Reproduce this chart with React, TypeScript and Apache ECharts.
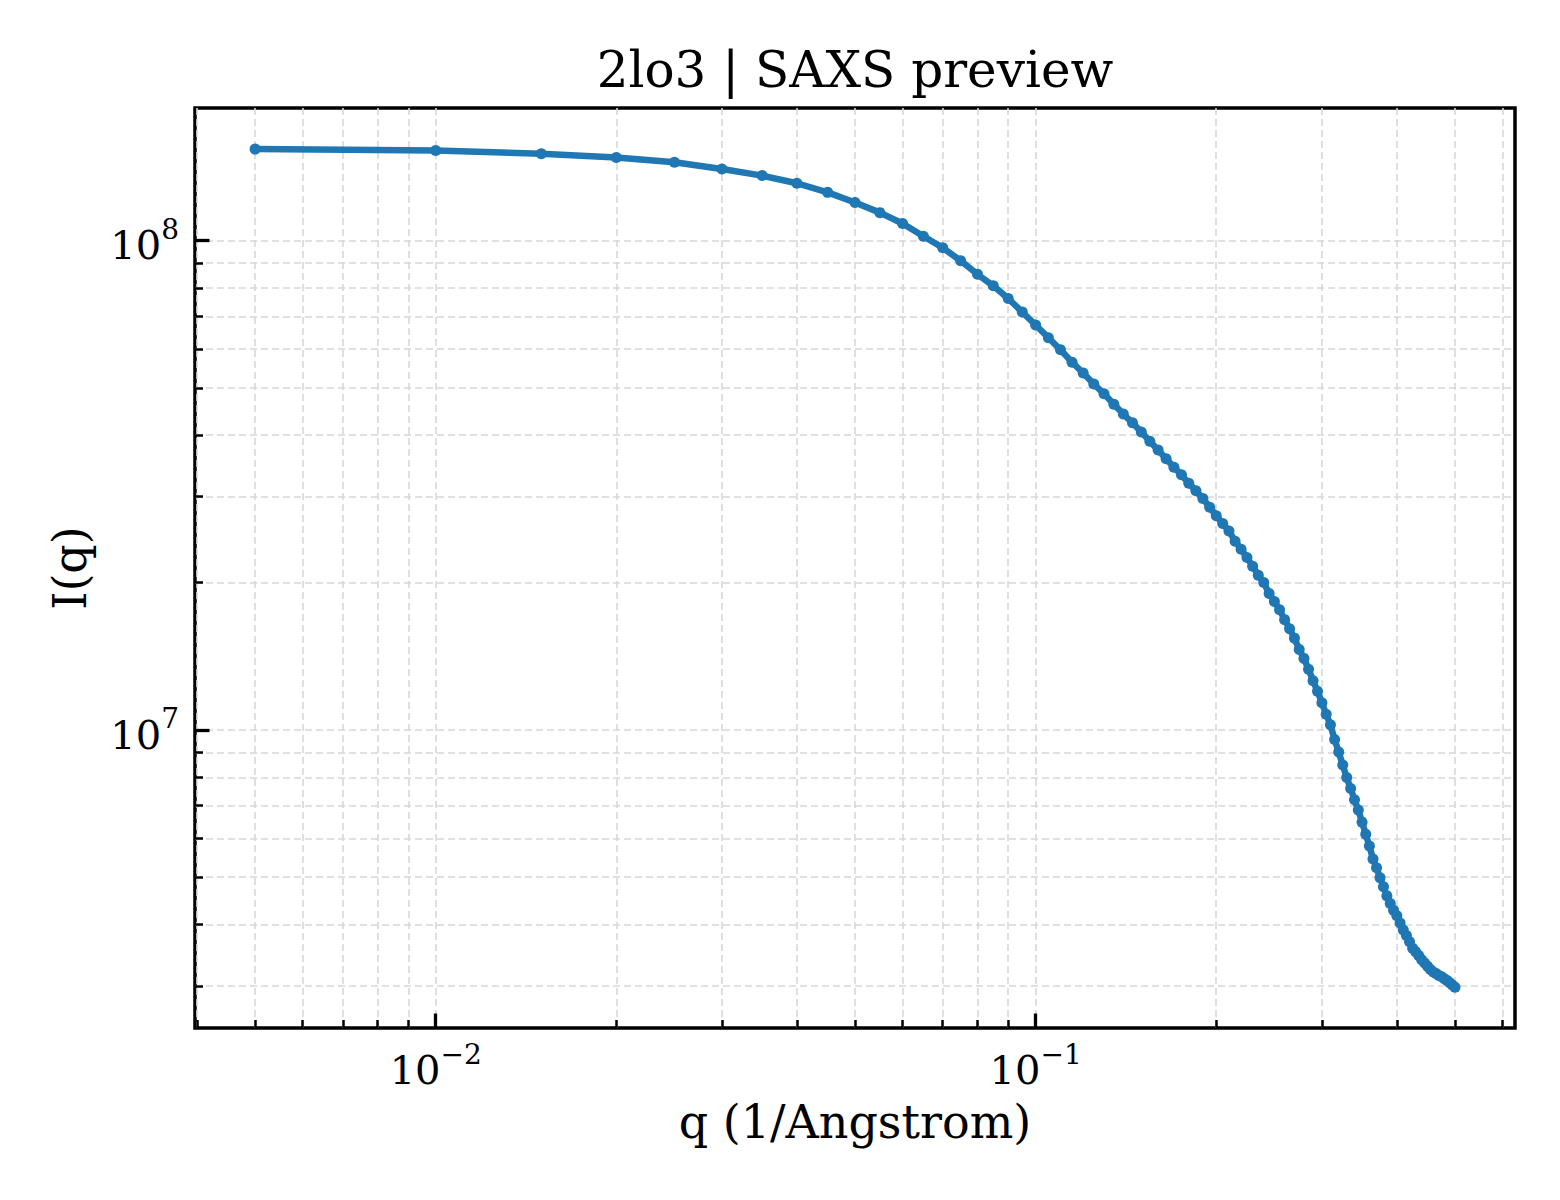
import { useEffect, useRef } from 'react';
import * as echarts from 'echarts';

// q in 1/Angstrom, I(q)
const q = [
  0.005, 0.01, 0.015, 0.02, 0.025, 0.03, 0.035, 0.04, 0.045, 0.05,
  0.055, 0.06, 0.065, 0.07, 0.075, 0.08, 0.085, 0.09, 0.095, 0.1,
  0.105, 0.11, 0.115, 0.12, 0.125, 0.13, 0.135, 0.14, 0.145, 0.15,
  0.155, 0.16, 0.165, 0.17, 0.175, 0.18, 0.185, 0.19, 0.195, 0.2,
  0.205, 0.21, 0.215, 0.22, 0.225, 0.23, 0.235, 0.24, 0.245, 0.25,
  0.255, 0.26, 0.265, 0.27, 0.275, 0.28, 0.285, 0.29, 0.295, 0.3,
  0.305, 0.31, 0.315, 0.32, 0.325, 0.33, 0.335, 0.34, 0.345, 0.35,
  0.355, 0.36, 0.365, 0.37, 0.375, 0.38, 0.385, 0.39, 0.395, 0.4,
  0.405, 0.41, 0.415, 0.42, 0.425, 0.43, 0.435, 0.44, 0.445, 0.45,
  0.455, 0.46, 0.465, 0.47, 0.475, 0.48, 0.485, 0.49, 0.495, 0.5,
];

const intensity = [
  1.537e8, 1.527e8, 1.504e8, 1.477e8, 1.445e8, 1.4e8, 1.357e8, 1.309e8, 1.254e8, 1.196e8,
  1.14e8, 1.083e8, 1.02e8, 9.66e7, 9.09e7, 8.53e7, 8.08e7, 7.61e7, 7.14e7, 6.72e7,
  6.33e7, 5.98e7, 5.64e7, 5.36e7, 5.09e7, 4.86e7, 4.63e7, 4.42e7, 4.24e7, 4.06e7,
  3.89e7, 3.73e7, 3.58e7, 3.44e7, 3.32e7, 3.19e7, 3.08e7, 2.97e7, 2.85e7, 2.74e7,
  2.64e7, 2.55e7, 2.43e7, 2.34e7, 2.25e7, 2.16e7, 2.07e7, 2.0e7, 1.9e7, 1.83e7,
  1.76e7, 1.68e7, 1.61e7, 1.54e7, 1.46e7, 1.4e7, 1.33e7, 1.26e7, 1.2e7, 1.136e7,
  1.076e7, 1.024e7, 9.56e6, 9.01e6, 8.48e6, 7.99e6, 7.59e6, 7.2e6, 6.86e6, 6.48e6,
  6.12e6, 5.79e6, 5.45e6, 5.23e6, 4.99e6, 4.78e6, 4.58e6, 4.42e6, 4.28e6, 4.17e6,
  4.03e6, 3.9e6, 3.8e6, 3.69e6, 3.58e6, 3.52e6, 3.46e6, 3.39e6, 3.34e6, 3.29e6,
  3.24e6, 3.2e6, 3.18e6, 3.15e6, 3.13e6, 3.1e6, 3.075e6, 3.045e6, 3.01e6, 2.98e6,
];

const xLimits = [0.00397, 0.6295];
const yLimits = [2.46e6, 1.865e8];

const xMajorTicks = [0.01, 0.1];
const xMinorTicks = [
  0.004, 0.005, 0.006, 0.007, 0.008, 0.009,
  0.02, 0.03, 0.04, 0.05, 0.06, 0.07, 0.08, 0.09,
  0.2, 0.3, 0.4, 0.5, 0.6,
];
const yMajorTicks = [1e7, 1e8];
const yMinorTicks = [
  3e6, 4e6, 5e6, 6e6, 7e6, 8e6, 9e6,
  2e7, 3e7, 4e7, 5e7, 6e7, 7e7, 8e7, 9e7,
];

const FONT = "'DejaVu Serif', serif";
const gridStyle = { color: '#d8d8d8', width: 1.6, type: [7, 4] as number[] };

const powLabel = (v: number) => {
  const e = Math.round(Math.log10(v));
  return `{b|10}{s|${e < 0 ? '\u2212' + -e : e}}`;
};

const richPow = {
  b: { fontSize: 40, lineHeight: 50, verticalAlign: 'bottom', fontFamily: FONT, color: '#000' },
  s: { fontSize: 28, lineHeight: 28, verticalAlign: 'top', fontFamily: FONT, color: '#000' },
};

export default function App() {
  const ref = useRef<HTMLDivElement>(null);

  useEffect(() => {
    if (!ref.current) return;
    const chart = echarts.init(ref.current, undefined, { renderer: 'svg' });

    const option: any = {
      animation: false,
      backgroundColor: '#fff',
      title: {
        text: '2lo3 | SAXS preview',
        left: 855,
        top: 45,
        padding: 0,
        textAlign: 'center',
        textStyle: { fontFamily: FONT, fontSize: 50, fontWeight: 'normal', color: '#000' },
      },
      grid: {
        left: 195,
        top: 108,
        width: 1320,
        height: 920,
        show: true,
        borderColor: '#000',
        borderWidth: 3.5,
        backgroundColor: 'transparent',
      },
      xAxis: [
        {
          type: 'log',
          min: xLimits[0],
          max: xLimits[1],
          position: 'bottom',
          name: 'q (1/Angstrom)',
          nameLocation: 'middle',
          nameGap: 71,
          nameTextStyle: { fontFamily: FONT, fontSize: 46, color: '#000' },
          axisLine: { show: false },
          axisTick: {
            show: true,
            inside: true,
            length: 8,
            lineStyle: { color: '#000', width: 2.5 },
            customValues: xMinorTicks,
          },
          axisLabel: {
            show: true,
            margin: 12,
            customValues: xMajorTicks,
            formatter: powLabel,
            rich: richPow,
          },
          splitLine: { show: true, lineStyle: gridStyle },
        },
        {
          type: 'log',
          min: xLimits[0],
          max: xLimits[1],
          position: 'bottom',
          offset: 0,
          axisLine: { show: false },
          axisTick: {
            show: true,
            inside: true,
            length: 14.5,
            lineStyle: { color: '#000', width: 3.3 },
            customValues: xMajorTicks,
          },
          axisLabel: { show: false },
          splitLine: { show: true, lineStyle: gridStyle },
        },
      ],
      yAxis: [
        {
          type: 'log',
          min: yLimits[0],
          max: yLimits[1],
          position: 'left',
          name: 'I(q)',
          nameLocation: 'middle',
          nameGap: 102,
          nameTextStyle: { fontFamily: FONT, fontSize: 46, color: '#000' },
          axisLine: { show: false },
          axisTick: {
            show: true,
            inside: true,
            length: 8,
            lineStyle: { color: '#000', width: 2.5 },
            customValues: yMinorTicks,
          },
          axisLabel: {
            show: true,
            margin: 16,
            customValues: yMajorTicks,
            formatter: powLabel,
            rich: richPow,
          },
          splitLine: { show: true, lineStyle: gridStyle },
        },
        {
          type: 'log',
          min: yLimits[0],
          max: yLimits[1],
          position: 'left',
          offset: 0,
          axisLine: { show: false },
          axisTick: {
            show: true,
            inside: true,
            length: 14.5,
            lineStyle: { color: '#000', width: 3.3 },
            customValues: yMajorTicks,
          },
          axisLabel: { show: false },
          splitLine: { show: true, lineStyle: gridStyle },
        },
      ],
      series: [
        {
          type: 'line',
          xAxisIndex: 0,
          yAxisIndex: 0,
          data: q.map((x, i) => [x, intensity[i]]),
          symbol: 'circle',
          symbolSize: 11,
          showSymbol: true,
          lineStyle: { color: '#1f77b4', width: 6.5 },
          itemStyle: { color: '#1f77b4' },
          z: 5,
        },
      ],
    };

    chart.setOption(option);
    return () => chart.dispose();
  }, []);

  return (
    <div
      ref={ref}
      style={{ position: 'absolute', left: 0, top: 0, width: 1560, height: 1200, background: '#fff' }}
    />
  );
}
